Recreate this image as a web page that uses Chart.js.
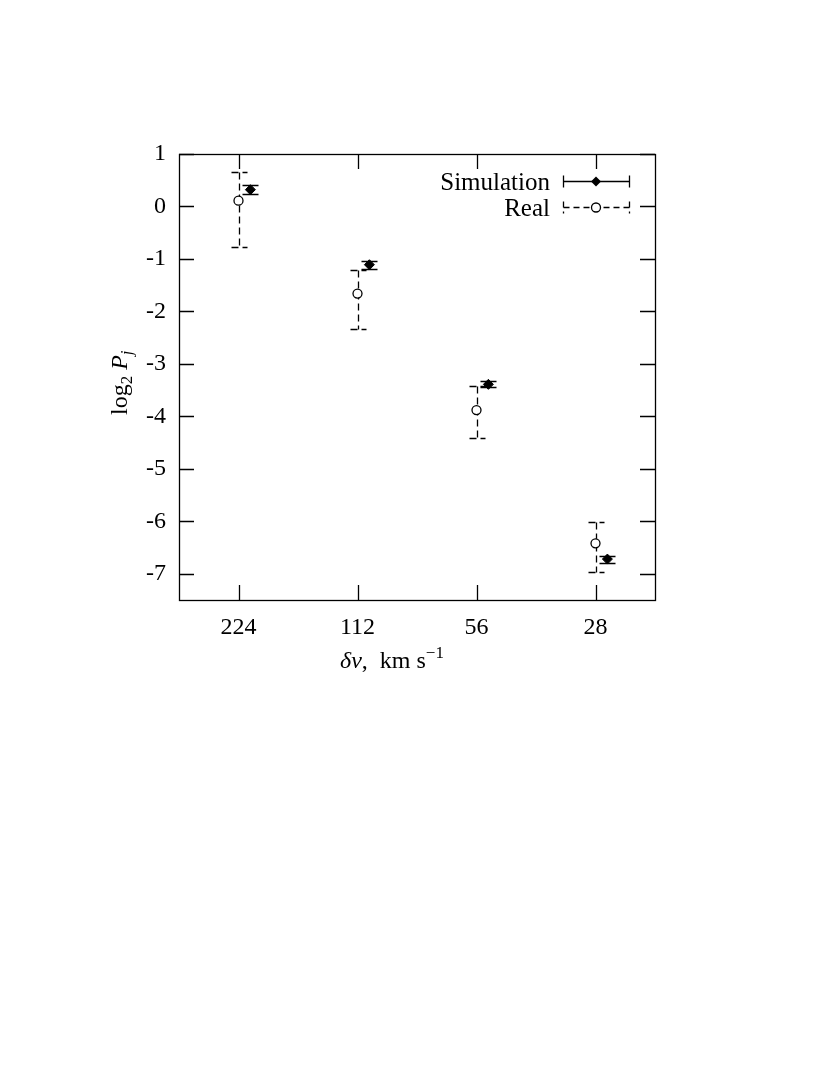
<!DOCTYPE html>
<html>
<head>
<meta charset="utf-8">
<title>log2 Pj vs delta v</title>
<script src="https://cdn.jsdelivr.net/npm/chart.js@4.4.0/dist/chart.umd.min.js"></script>
<style>
  body { margin: 0; background: #fff; }
  #wrap { width: 830px; height: 1075px; }
</style>
</head>
<body>
<div id="wrap"><canvas id="plot" width="830" height="1075"></canvas></div>
<script>
// data
const xLabels = ['224', '112', '56', '28'];
const yTicks = [1, 0, -1, -2, -3, -4, -5, -6, -7];
const simY  = [0.32, -1.11, -3.39, -6.72];
const simLo = [0.24, -1.19, -3.45, -6.79];
const simHi = [0.40, -1.04, -3.33, -6.66];
const realY  = [0.11, -1.66, -3.88, -6.42];
const realLo = [-0.77, -2.34, -4.42, -6.97];
const realHi = [0.65, -1.22, -3.43, -6.02];

const SIM_SHIFT = 0.1;   // simulation points sit a little right of the category
const FONT = '"Liberation Serif", "DejaVu Serif", serif';
const TICK = 15;
const LW = 1.3;

function pts(ys, lo, hi, shift) {
  return ys.map((v, i) => ({ x: i + 1 + shift, y: v, lo: lo[i], hi: hi[i] }));
}

// box + inward ticks on all four sides
const framePlugin = {
  id: 'frame',
  afterDraw(chart) {
    const { ctx, chartArea: a, scales } = chart;
    ctx.save();
    ctx.strokeStyle = '#000';
    ctx.lineWidth = LW;
    ctx.strokeRect(a.left + 0.5, a.top + 0.5, a.right - a.left, a.bottom - a.top);
    ctx.beginPath();
    yTicks.forEach(v => {
      const y = Math.round(scales.y.getPixelForValue(v)) + 0.5;
      ctx.moveTo(a.left, y); ctx.lineTo(a.left + TICK, y);
      ctx.moveTo(a.right, y); ctx.lineTo(a.right - TICK, y);
    });
    xLabels.forEach((l, i) => {
      const x = Math.round(scales.x.getPixelForValue(i + 1)) + 0.5;
      ctx.moveTo(x, a.bottom); ctx.lineTo(x, a.bottom - TICK);
      ctx.moveTo(x, a.top); ctx.lineTo(x, a.top + TICK);
    });
    ctx.stroke();
    ctx.restore();
  }
};

// vertical error bars with caps
const errorPlugin = {
  id: 'errbars',
  beforeDatasetsDraw(chart) {
    const { ctx, scales } = chart;
    ctx.save();
    ctx.strokeStyle = '#000';
    ctx.lineWidth = LW;
    chart.data.datasets.forEach((ds, di) => {
      const meta = chart.getDatasetMeta(di);
      ctx.setLineDash(ds.errDash || []);
      meta.data.forEach((el, i) => {
        const p = ds.data[i];
        const x = Math.round(el.x) + 0.5;
        const y1 = Math.round(scales.y.getPixelForValue(p.hi)) + 0.5;
        const y2 = Math.round(scales.y.getPixelForValue(p.lo)) + 0.5;
        ctx.beginPath();
        ctx.moveTo(x, y1); ctx.lineTo(x, y2);
        ctx.moveTo(x - 8, y1); ctx.lineTo(x + 8, y1);
        ctx.moveTo(x - 8, y2); ctx.lineTo(x + 8, y2);
        ctx.stroke();
      });
    });
    ctx.restore();
  }
};

// gnuplot-like legend and axis titles
const textPlugin = {
  id: 'texts',
  afterDraw(chart) {
    const { ctx } = chart;
    ctx.save();
    ctx.fillStyle = '#000';
    ctx.strokeStyle = '#000';
    ctx.lineWidth = LW;
    ctx.textBaseline = 'alphabetic';

    // legend
    const rows = [
      { label: 'Simulation', y: 181.5, dash: [], style: 'rectRot' },
      { label: 'Real', y: 207.5, dash: [6, 4], style: 'circle' }
    ];
    rows.forEach(r => {
      ctx.font = '25px ' + FONT;
      ctx.textAlign = 'right';
      ctx.fillText(r.label, 550, r.y + 8);
      ctx.setLineDash(r.dash);
      ctx.beginPath();
      ctx.moveTo(563.5, r.y); ctx.lineTo(629.5, r.y);
      ctx.moveTo(563.5, r.y - 6); ctx.lineTo(563.5, r.y + 6);
      ctx.moveTo(629.5, r.y - 6); ctx.lineTo(629.5, r.y + 6);
      ctx.stroke();
      ctx.setLineDash([]);
      if (r.style === 'rectRot') {
        ctx.beginPath();
        ctx.moveTo(596, r.y - 5); ctx.lineTo(601, r.y);
        ctx.lineTo(596, r.y + 5); ctx.lineTo(591, r.y);
        ctx.closePath(); ctx.fill();
      } else {
        ctx.beginPath();
        ctx.fillStyle = '#fff';
        ctx.arc(596, r.y, 4.5, 0, Math.PI * 2);
        ctx.fill(); ctx.stroke();
        ctx.fillStyle = '#000';
      }
    });

    // x title: δv,  km s^-1
    ctx.textAlign = 'left';
    let x = 340, y = 668;
    const part = (t, f, dy) => { ctx.font = f; ctx.fillText(t, x, y + (dy || 0)); x += ctx.measureText(t).width; };
    part('δv', 'italic 24px ' + FONT);
    part(',  km s', '24px ' + FONT);
    part('−1', '17px ' + FONT, -10);

    // y title: log2 Pj (rotated)
    ctx.translate(127, 415);
    ctx.rotate(-Math.PI / 2);
    x = 0; y = 0;
    part('log', '24px ' + FONT);
    part('2', '17px ' + FONT, 5);
    x += 6;
    part('P', 'italic 24px ' + FONT);
    part('j', 'italic 17px ' + FONT, 5);
    ctx.restore();
  }
};

new Chart(document.getElementById('plot'), {
  type: 'scatter',
  data: {
    datasets: [
      {
        label: 'Simulation',
        data: pts(simY, simLo, simHi, SIM_SHIFT),
        pointStyle: 'rectRot',
        pointRadius: 5,
        backgroundColor: '#000',
        borderColor: '#000',
        borderWidth: 1,
        errDash: []
      },
      {
        label: 'Real',
        data: pts(realY, realLo, realHi, 0),
        pointStyle: 'circle',
        pointRadius: 4.5,
        backgroundColor: '#fff',
        borderColor: '#000',
        borderWidth: LW,
        errDash: [7, 4]
      }
    ]
  },
  options: {
    responsive: false,
    animation: false,
    layout: { padding: { left: 119, top: 154, right: 175, bottom: 395 } },
    plugins: { legend: { display: false }, tooltip: { enabled: false } },
    scales: {
      x: {
        type: 'linear',
        min: 0.5, max: 4.5,
        afterFit: s => { s.height = 80; },
        afterBuildTicks: s => { s.ticks = xLabels.map((l, i) => ({ value: i + 1 })); },
        grid: { display: false, drawTicks: false },
        border: { display: false },
        ticks: {
          padding: 13,
          color: '#000',
          maxRotation: 0,
          font: { family: FONT, size: 24 },
          callback: v => xLabels[v - 1]
        }
      },
      y: {
        min: -7.5, max: 1,
        afterFit: s => { s.width = 60; },
        afterBuildTicks: s => { s.ticks = yTicks.map(v => ({ value: v })); },
        grid: { display: false, drawTicks: false },
        border: { display: false },
        ticks: {
          padding: 13,
          color: '#000',
          font: { family: FONT, size: 24 },
          callback: v => String(v).replace('−', '-')
        }
      }
    }
  },
  plugins: [errorPlugin, framePlugin, textPlugin]
});
</script>
</body>
</html>
